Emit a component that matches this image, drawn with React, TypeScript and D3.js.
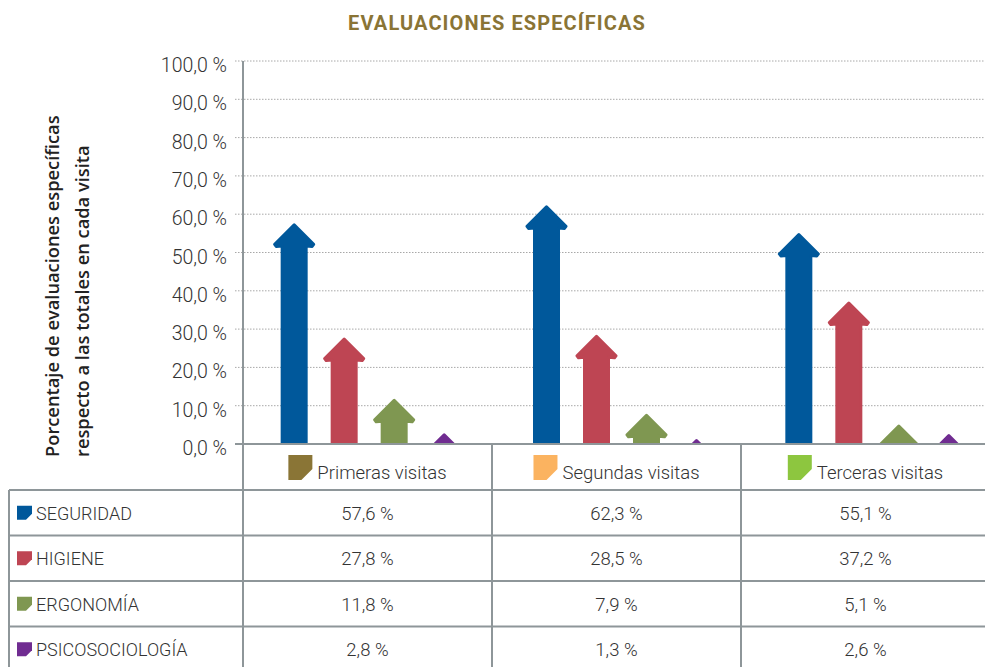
import React, { Component } from 'react';
import * as d3 from 'd3';

const visits = ['Primeras visitas', 'Segundas visitas', 'Terceras visitas'];
const visitColors = ['#8a7536', '#fbb360', '#8dc63f'];
const series = ['SEGURIDAD', 'HIGIENE', 'ERGONOMÍA', 'PSICOSOCIOLOGÍA'];
const seriesColors = ['#00589b', '#be4553', '#7f9751', '#702c91'];
const seguridad = [57.6, 62.3, 55.1];
const higiene = [27.8, 28.5, 37.2];
const ergonomia = [11.8, 7.9, 5.1];
const psicosociologia = [2.8, 1.3, 2.6];
const yTicks = [0, 10, 20, 30, 40, 50, 60, 70, 80, 90, 100];

const values = [seguridad, higiene, ergonomia, psicosociologia];
const fmt = v => v.toFixed(1).replace('.', ',') + ' %';
const lineColor = '#8e9699';
const textColor = '#333333';
const lightFont = 'Roboto, "Noto Sans", sans-serif';

class App extends Component {
  node: any;

  componentDidMount() {
    this.createChart();
  }

  createChart() {
    const svg = d3.select(this.node);
    svg.selectAll('*').remove();

    const width = 985;
    const baseY = 444;
    const yScale = d3.scaleLinear().domain([0, 100]).range([baseY, 61]);
    const x0 = d3.scaleBand().domain(visits).range([243, 1000]);
    const x1 = d3.scalePoint().domain(series).range([-75, 75]);
    const col = d3.scaleBand().domain(visits).range([243, 990]);
    const row = d3.scaleBand().domain(series).range([490, 672]);

    // title
    svg
      .append('text')
      .attr('x', 497)
      .attr('y', 29.5)
      .attr('text-anchor', 'middle')
      .attr('fill', '#8a7435')
      .style('font-family', lightFont)
      .style('font-weight', 700)
      .style('font-size', '20px')
      .style('letter-spacing', '1.1px')
      .text('EVALUACIONES ESPECÍFICAS');

    // y axis title
    const yTitle = svg
      .append('text')
      .attr('transform', 'translate(0,457) rotate(-90)')
      .attr('fill', '#222')
      .style('font-family', '"Open Sans", sans-serif')
      .style('font-weight', 600)
      .style('font-size', '18.3px');
    yTitle.append('tspan').attr('x', 0).attr('y', 58.5).text('Porcentaje de evaluaciones específicas');
    yTitle.append('tspan').attr('x', 0).attr('y', 88.5).text('respecto a las totales en cada visita');

    // grid + tick labels
    const grid = svg.append('g');
    yTicks.forEach(t => {
      if (t > 0) {
        grid
          .append('line')
          .attr('x1', 235)
          .attr('x2', width)
          .attr('y1', yScale(t))
          .attr('y2', yScale(t))
          .attr('stroke', '#a8a8a8')
          .attr('stroke-width', 1)
          .attr('stroke-dasharray', '1.5,1.5');
      }
      grid
        .append('text')
        .attr('x', 227)
        .attr('y', yScale(t) + 11)
        .attr('text-anchor', 'end')
        .attr('fill', textColor)
        .style('font-family', lightFont)
        .style('font-weight', 300)
        .style('font-size', '19.5px')
        .text(fmt(t));
    });

    // arrows
    svg
      .append('defs')
      .append('clipPath')
      .attr('id', 'plot-clip')
      .append('rect')
      .attr('x', 243)
      .attr('y', 0)
      .attr('width', width - 243)
      .attr('height', baseY);

    const arrowPath = h => {
      const pts = [
        [0, 1.5],
        [19.5, 21],
        [18, 23],
        [12, 22.5],
        [12, h + 4],
        [-12, h + 4],
        [-12, 22.5],
        [-18, 23],
        [-19.5, 21]
      ];
      return d3.line()(pts) + 'Z';
    };

    const arrows = svg.append('g').attr('clip-path', 'url(#plot-clip)');
    series.forEach((s, i) => {
      values[i].forEach((v, j) => {
        const cx = x0(visits[j]) + x0.bandwidth() / 2 + x1(s);
        const tip = yScale(v);
        arrows
          .append('path')
          .attr('transform', `translate(${cx},${tip})`)
          .attr('d', arrowPath(baseY - tip))
          .attr('fill', seriesColors[i])
          .attr('stroke', seriesColors[i])
          .attr('stroke-width', 3)
          .attr('stroke-linejoin', 'round');
      });
    });

    // axis lines
    svg
      .append('line')
      .attr('x1', 235)
      .attr('x2', width)
      .attr('y1', baseY)
      .attr('y2', baseY)
      .attr('stroke', lineColor)
      .attr('stroke-width', 2);
    svg
      .append('line')
      .attr('x1', 243)
      .attr('x2', 243)
      .attr('y1', 61)
      .attr('y2', 667)
      .attr('stroke', lineColor)
      .attr('stroke-width', 2);

    // table grid
    const table = svg.append('g');
    series.forEach(s => {
      table
        .append('line')
        .attr('x1', 9)
        .attr('x2', width)
        .attr('y1', row(s))
        .attr('y2', row(s))
        .attr('stroke', lineColor)
        .attr('stroke-width', 2);
    });
    table
      .append('line')
      .attr('x1', 9)
      .attr('x2', 9)
      .attr('y1', 490)
      .attr('y2', 667)
      .attr('stroke', lineColor)
      .attr('stroke-width', 2);
    visits.slice(1).forEach(v => {
      table
        .append('line')
        .attr('x1', col(v))
        .attr('x2', col(v))
        .attr('y1', baseY)
        .attr('y2', 667)
        .attr('stroke', lineColor)
        .attr('stroke-width', 2);
    });

    // header: visit legend
    visits.forEach((v, j) => {
      const cx = col(v) + col.bandwidth() / 2;
      const g = table.append('g').attr('transform', `translate(${cx - 80},455)`);
      g.append('path')
        .attr('d', 'M0,0H24V14L13,25H0Z')
        .attr('fill', visitColors[j]);
      g.append('text')
        .attr('x', 29)
        .attr('y', 24)
        .attr('fill', textColor)
        .style('font-family', lightFont)
        .style('font-weight', 300)
        .style('font-size', '18.5px')
        .text(v);
    });
    // re-center header groups on measured widths
    table.selectAll('g').each(function () {
      const bb = this.getBBox();
      const tr = d3.select(this).attr('transform');
      const m = /translate\(([-\d.]+),([-\d.]+)\)/.exec(tr);
      const cx = +m[1] + 80;
      d3.select(this).attr('transform', `translate(${cx - bb.width / 2},${m[2]})`);
    });

    // rows
    series.forEach((s, i) => {
      const y = row(s) + row.bandwidth() / 2 + 7;
      table
        .append('path')
        .attr('transform', `translate(17,${y - 14})`)
        .attr('d', 'M0,0H15V8L9,14H0Z')
        .attr('fill', seriesColors[i]);
      table
        .append('text')
        .attr('x', 36)
        .attr('y', y)
        .attr('fill', textColor)
        .style('font-family', lightFont)
        .style('font-weight', 300)
        .style('font-size', '18px')
        .text(s);
      values[i].forEach((v, j) => {
        table
          .append('text')
          .attr('x', col(visits[j]) + col.bandwidth() / 2)
          .attr('y', y)
          .attr('text-anchor', 'middle')
          .attr('fill', textColor)
          .style('font-family', lightFont)
          .style('font-weight', 300)
          .style('font-size', '18.5px')
          .text(fmt(v));
      });
    });
  }

  render() {
    return (
      <svg
        ref={node => (this.node = node)}
        width={985}
        height={667}
        style={{ position: 'absolute', left: 0, top: 0, background: '#fff' }}
      />
    );
  }
}

export default App;
